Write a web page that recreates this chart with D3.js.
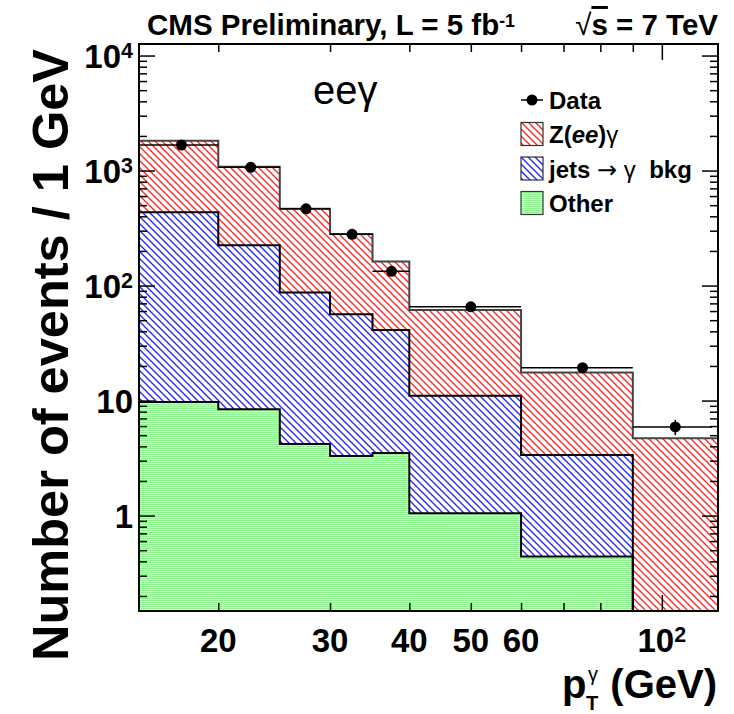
<!DOCTYPE html>
<html>
<head>
<meta charset="utf-8">
<script src="https://cdn.jsdelivr.net/npm/d3@7"></script>
<style>
  body { margin: 0; background: #fff; }
  svg { font-family: "Liberation Sans", Arial, Helvetica, sans-serif; }
</style>
</head>
<body>
<svg id="chart"></svg>
<script>
// bins in photon pT (GeV), values are events / 1 GeV
const binEdges = [15, 20, 25, 30, 35, 40, 60, 90, 120];
const zeeGamma = [1380, 855, 378, 224, 121, 50.2, 14.2, 4.7];
const jetsBkg = [425, 216, 83, 53, 37.5, 9.95, 2.92, 0];
const other = [9.7, 8.4, 4.2, 3.3, 3.5, 1.05, 0.44, 0];
const dataX = [17.5, 22.5, 27.5, 32.5, 37.5, 50, 75, 105];
const dataY = [1667, 1067, 465, 279, 133, 65.4, 19.3, 5.9];
const dataErr = [13, 10, 4, 3.5, 2.5, 1.2, 0.6, 0.9];
const yMajorTicks = [1, 10, 100, 1000, 10000];
const xTicks = [20, 30, 40, 50, 60, 70, 80, 90];
const xMajorTicks = [100];
const xTickLabels = [20, 30, 40, 50, 60, 100];

const W = 734, H = 714;
const frame = {left: 139, right: 718, top: 44, bottom: 611};
const xMax = 122.6;

const svg = d3.select("#chart").attr("width", W).attr("height", H);

const x = d3.scaleLog().domain([binEdges[0], xMax]).range([frame.left, frame.right]);
const y = d3.scaleLog().domain([0.148, 12600]).range([frame.bottom, frame.top]).clamp(true);
const yPos = v => v > 0 ? y(v) : frame.bottom;

// patterns
const defs = svg.append("defs");
function hatch(id, color) {
    const p = defs.append("pattern").attr("id", id)
        .attr("patternUnits", "userSpaceOnUse").attr("width", 7).attr("height", 7);
    p.append("rect").attr("width", 7).attr("height", 7).attr("fill", "#fff");
    p.append("path").attr("d", "M-1,-1 L8,8 M-1,6 L1,8 M6,-1 L8,1")
        .attr("stroke", color).attr("stroke-width", 1.3);
}
hatch("hatchRed", "#ff2020");
hatch("hatchBlue", "#2020ff");
const g3 = defs.append("pattern").attr("id", "fillGreen")
    .attr("patternUnits", "userSpaceOnUse").attr("width", 4).attr("height", 2);
g3.append("rect").attr("width", 4).attr("height", 2).attr("fill", "#ccfacc");
g3.append("rect").attr("width", 4).attr("height", 1).attr("fill", "#8ef28e");

defs.append("clipPath").attr("id", "plotClip").append("rect")
    .attr("x", frame.left).attr("y", frame.top)
    .attr("width", frame.right - frame.left).attr("height", frame.bottom - frame.top);

// stacked histograms
const rows = binEdges.slice(0, -1).map((lo, i) => ({
    lo: lo, hi: i === binEdges.length - 2 ? xMax : binEdges[i + 1],
    other: other[i], jets: jetsBkg[i], zee: zeeGamma[i]
}));
const stack = d3.stack().keys(["other", "jets", "zee"]);
const layers = stack(rows);
const fills = {other: "url(#fillGreen)", jets: "url(#hatchBlue)", zee: "url(#hatchRed)"};
const outlines = {other: "#000", jets: "#000", zee: "#444"};

const area = d3.area()
    .x(d => x(d.x))
    .y0(d => yPos(d.y0))
    .y1(d => yPos(d.y1));
const line = d3.line().x(d => x(d.x)).y(d => yPos(d.y1));

const plot = svg.append("g").attr("clip-path", "url(#plotClip)");

layers.forEach(layer => {
    const pts = [];
    layer.forEach(s => {
        const lo = s.data.lo, hi = s.data.hi;
        const v0 = s[0], v1 = s[1] - s[0] > 0 ? s[1] : 0;
        pts.push({x: lo, y0: v0, y1: v1}, {x: hi, y0: v0, y1: v1});
    });
    plot.append("path").attr("d", area(pts)).attr("fill", fills[layer.key]);
    layer.pts = pts;
});
layers.slice().reverse().forEach(layer => {
    plot.append("path").attr("d", line(layer.pts))
        .attr("fill", "none").attr("stroke", outlines[layer.key]).attr("stroke-width", 2);
});

// data points
const pts = plot.append("g");
dataX.forEach((xv, i) => {
    const cy = y(dataY[i]);
    pts.append("line").attr("x1", x(binEdges[i])).attr("x2", x(binEdges[i + 1]))
        .attr("y1", cy).attr("y2", cy).attr("stroke", "#000").attr("stroke-width", 1.5);
    pts.append("line").attr("x1", x(xv)).attr("x2", x(xv))
        .attr("y1", y(dataY[i] + dataErr[i])).attr("y2", y(dataY[i] - dataErr[i]))
        .attr("stroke", "#000").attr("stroke-width", 1.5);
    pts.append("circle").attr("cx", x(xv)).attr("cy", cy).attr("r", 5.5).attr("fill", "#000");
});

// frame + ticks
svg.append("rect").attr("x", frame.left).attr("y", frame.top)
    .attr("width", frame.right - frame.left).attr("height", frame.bottom - frame.top)
    .attr("fill", "none").attr("stroke", "#000").attr("stroke-width", 2);

const yMinor = y.ticks().filter(v => !yMajorTicks.includes(v));
function tickAxis(axis, vals, size, tx, ty) {
    const gax = svg.append("g").attr("transform", `translate(${tx},${ty})`)
        .call(axis.tickValues(vals).tickSize(size).tickSizeOuter(0).tickFormat(""));
    gax.select(".domain").remove();
    gax.selectAll("line").attr("stroke", "#000").attr("stroke-width", 1.5);
}
tickAxis(d3.axisRight(y), yMajorTicks, 16, frame.left, 0);
tickAxis(d3.axisRight(y), yMinor, 8, frame.left, 0);
tickAxis(d3.axisLeft(y), yMajorTicks, 16, frame.right, 0);
tickAxis(d3.axisLeft(y), yMinor, 8, frame.right, 0);
tickAxis(d3.axisTop(x), xTicks, 8, 0, frame.bottom);
tickAxis(d3.axisTop(x), xMajorTicks, 16, 0, frame.bottom);
tickAxis(d3.axisBottom(x), xTicks, 8, 0, frame.top);
tickAxis(d3.axisBottom(x), xMajorTicks, 16, 0, frame.top);

function powText(t, v) {
    const e = Math.log10(v);
    if (v <= 10 || Math.abs(e - Math.round(e)) > 1e-9) { t.text(v); return; }
    t.append("tspan").text("10");
    t.append("tspan").attr("dy", "-0.45em").attr("font-size", "0.65em").text(Math.round(e));
}

// y tick labels
yMajorTicks.forEach(v => {
    const t = svg.append("text").attr("x", 133).attr("y", y(v) + 12)
        .attr("text-anchor", "end").attr("font-weight", "bold").attr("font-size", 33);
    powText(t, v);
});
// x tick labels
xTickLabels.forEach(v => {
    const t = svg.append("text").attr("x", x(v)).attr("y", 652)
        .attr("text-anchor", "middle").attr("font-weight", "bold").attr("font-size", 33);
    powText(t, v);
});

// titles
svg.append("text").attr("x", 147).attr("y", 35).attr("font-weight", "bold").attr("font-size", 29.5)
    .call(t => {
        t.append("tspan").text("CMS Preliminary, L = 5 fb");
        t.append("tspan").attr("dy", "-0.45em").attr("font-size", "0.6em").text("-1");
    });
svg.append("text").attr("x", 718).attr("y", 35).attr("text-anchor", "end")
    .attr("font-weight", "bold").attr("font-size", 29.5)
    .call(t => {
        t.append("tspan").attr("font-weight", "normal").text("\u221a");
        t.append("tspan").attr("text-decoration", "overline").text("s");
        t.append("tspan").text(" = 7 TeV");
    });

svg.append("text")
    .attr("transform", "translate(68,355) rotate(-90)")
    .attr("text-anchor", "middle").attr("font-weight", "bold").attr("font-size", 50)
    .attr("textLength", 612).attr("lengthAdjust", "spacingAndGlyphs")
    .text("Number of events / 1 GeV");

// x title: p_T^gamma (GeV)
const xt = svg.append("g").attr("font-weight", "bold");
xt.append("text").attr("x", 717).attr("y", 698).attr("text-anchor", "end")
    .attr("font-size", 40).text("(GeV)");
xt.append("text").attr("x", 562).attr("y", 698).attr("font-size", 40).text("p");
xt.append("text").attr("x", 586).attr("y", 710).attr("font-size", 20).text("T");
xt.append("text").attr("x", 588).attr("y", 681).attr("font-size", 20)
    .attr("font-weight", "normal").text("\u03b3");

svg.append("text").attr("x", 313).attr("y", 104).attr("font-size", 40).text("ee\u03b3");

// legend
const legend = svg.append("g").attr("font-weight", "bold").attr("font-size", 24);
const legX = 521, legTextX = 549;
legend.append("line").attr("x1", legX).attr("x2", legX + 22).attr("y1", 100).attr("y2", 100)
    .attr("stroke", "#000").attr("stroke-width", 1.5);
legend.append("circle").attr("cx", legX + 11).attr("cy", 100).attr("r", 5.5);
legend.append("text").attr("x", legTextX).attr("y", 109).text("Data");

const legRows = [
    {fill: "url(#hatchRed)", y: 134, parts: [["Z(", ""], ["ee", "italic"], [")", ""], ["\u03b3", "normal"]]},
    {fill: "url(#hatchBlue)", y: 168.5, parts: [["jets ", ""], ["\u2192", "arrow"], [" \u03b3", "normal"], ["  bkg", ""]]},
    {fill: "url(#fillGreen)", y: 203, parts: [["Other", ""]]}
];
legRows.forEach(r => {
    legend.append("rect").attr("x", legX).attr("y", r.y - 11.5).attr("width", 22).attr("height", 23)
        .attr("fill", r.fill).attr("stroke", "#333").attr("stroke-width", 1.2);
    const t = legend.append("text").attr("x", legTextX).attr("y", r.y + 9).attr("xml:space", "preserve");
    r.parts.forEach(p => {
        const ts = t.append("tspan").text(p[0]);
        if (p[1] === "italic") ts.attr("font-style", "italic");
        if (p[1] === "normal") ts.attr("font-weight", "normal");
        if (p[1] === "arrow") ts.attr("font-weight", "normal").attr("font-family", "DejaVu Sans");
    });
});
</script>
</body>
</html>
